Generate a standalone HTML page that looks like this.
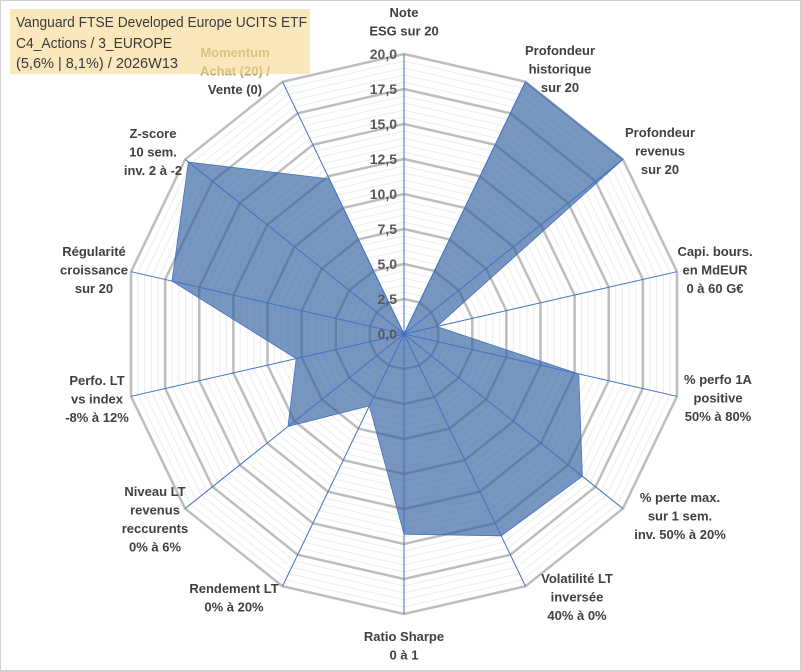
<!DOCTYPE html>
<html><head><meta charset="utf-8"><style>
body{margin:0;background:#fff;}
svg{display:block;font-family:"Liberation Sans",sans-serif;}
.lbl{font-size:13px;font-weight:bold;fill:#404040;}
.tick{font-size:14px;font-weight:bold;fill:#595959;}
</style></head><body>
<svg id="chart" width="801" height="671" viewBox="0 0 801 671">
<rect x="0.5" y="0.5" width="800" height="670" fill="#fff" stroke="#d0d0d0"/>
<g id="grid"></g>
<g id="series"></g>
<g id="ticks"></g>
<g id="labels"></g>
<rect x="10" y="9" width="300" height="65" fill="#f6d98f" opacity="0.6"/>
<g font-size="15" fill="#3a3a3a">
<text x="16" y="27" textLength="291" lengthAdjust="spacingAndGlyphs">Vanguard FTSE Developed Europe UCITS ETF</text>
<text x="16" y="48" textLength="156" lengthAdjust="spacingAndGlyphs">C4_Actions / 3_EUROPE</text>
<text x="16" y="68" textLength="162" lengthAdjust="spacingAndGlyphs">(5,6% | 8,1%) / 2026W13</text>
</g>
</svg>
<script>
const categories=[["Note","ESG sur 20"],["Profondeur","historique","sur 20"],["Profondeur","revenus","sur 20"],["Capi. bours.","en MdEUR","0 à 60 G€"],["% perfo 1A","positive","50% à 80%"],["% perte max.","sur 1 sem.","inv. 50% à 20%"],["Volatilité LT","inversée","40% à 0%"],["Ratio Sharpe","0 à 1"],["Rendement LT","0% à 20%"],["Niveau LT","revenus","reccurents","0% à 6%"],["Perfo. LT","vs index","-8% à 12%"],["Régularité","croissance","sur 20"],["Z-score","10 sem.","inv. 2 à -2"],["Momentum","Achat (20) /","Vente (0)"]];
const values=[0,20,20,2.4,12.8,16.3,16,14.3,5.7,10.6,7.9,17,19.7,12.3];
const tickLabels=["0,0","2,5","5,0","7,5","10,0","12,5","15,0","17,5","20,0"];
const maxVal=20;
const cx=404,cy=334,R=280,N=categories.length;
const NS="http://www.w3.org/2000/svg";
function rScale(v){return v/maxVal*R;}
function pt(i,v){const a=i*2*Math.PI/N;return [cx+rScale(v)*Math.sin(a),cy-rScale(v)*Math.cos(a)];}
function mk(tag,attrs,parent){const e=document.createElementNS(NS,tag);for(const k in attrs)e.setAttribute(k,attrs[k]);parent.appendChild(e);return e;}
const grid=document.getElementById('grid');
for(let v=0.5;v<=maxVal+0.01;v+=0.5){
  const major=Math.abs(v/2.5-Math.round(v/2.5))<0.01;
  const pts=[];for(let i=0;i<N;i++)pts.push(pt(i,v).join(','));
  const p=mk('polygon',{points:pts.join(' '),fill:'none',stroke:major?'#bdbdbd':'#ededed','stroke-width':major?2.5:1},grid);
  
  
}
const ser=document.getElementById('series');
const poly=mk('polygon',{points:values.map((v,i)=>pt(i,v).join(',')).join(' '),fill:'#2e5f9e','fill-opacity':0.65,stroke:'#4472c4','stroke-width':0.8},ser);


for(let i=0;i<N;i++){
  const [x,y]=pt(i,maxVal);
  const l=mk('line',{x1:cx,y1:cy,x2:x,y2:y,stroke:'#4472c4','stroke-width':1},ser);
  
  
}
const tg=document.getElementById('ticks');
tickLabels.forEach((t,k)=>{
  const tx=mk('text',{x:397,y:cy-rScale(k*2.5)+5,'text-anchor':'end',class:'tick'},tg);
  tx.textContent=t;
  
  
});
const labelPos=[[404,17],[560,55],[660,137],[715,256],[718,384],[680,502],[577,583],[404,641],[234,593],[155,496],[97,385],[94,256],[153,138],[235,57]];
const lg=document.getElementById('labels');
categories.forEach((lines,i)=>{
  const t=mk('text',{x:labelPos[i][0],y:labelPos[i][1],'text-anchor':'middle',class:'lbl'},lg);
  
  
  lines.forEach((s,j)=>{
    const ts=mk('tspan',{x:labelPos[i][0],dy:j?18.5:0},t);
    if(i===13&&j<2)ts.setAttribute('fill','#b39b6a');
    ts.textContent=s;
  });
});
</script>
</body></html>
